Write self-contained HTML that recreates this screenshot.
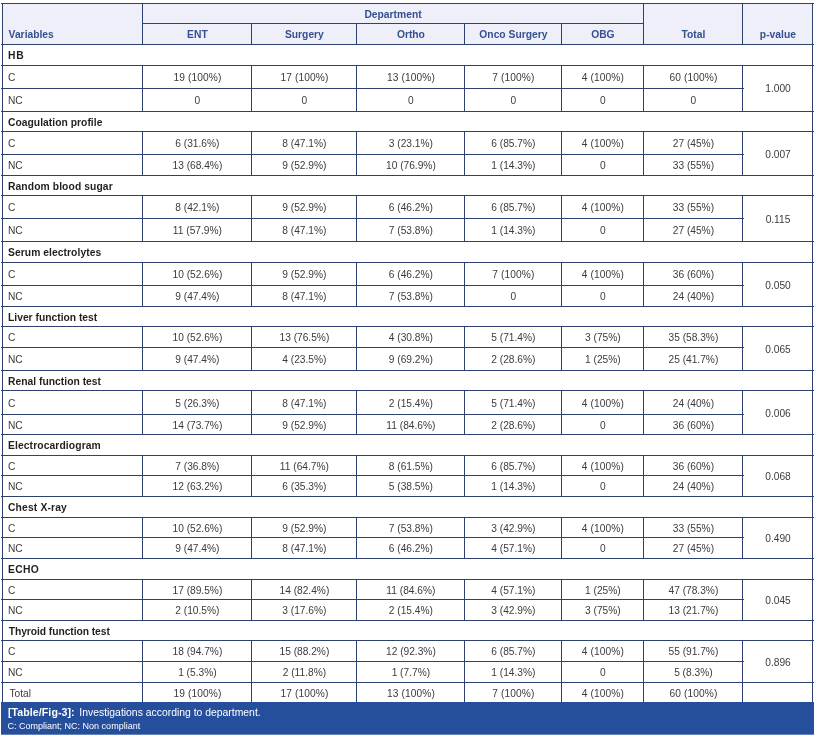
<!DOCTYPE html>
<html lang="en">
<head>
<meta charset="utf-8">
<title>Table/Fig-3: Investigations according to department</title>
<style>
html,body{margin:0;padding:0;background:#fff;}
body{width:817px;height:737px;position:relative;overflow:hidden;font-family:"Liberation Sans",sans-serif;}
svg{position:absolute;left:0;top:0;}
.t{position:absolute;white-space:nowrap;}
</style>
</head>
<body>
<svg width="817" height="737" viewBox="0 0 817 737" shape-rendering="crispEdges">
<rect x="3" y="4" width="809" height="40" fill="#eeeff8"/>
<rect x="1" y="702" width="813" height="32.7" fill="#254f9d" shape-rendering="auto"/>
<g fill="#2d4271">
<rect x="2" y="3" width="1" height="699"/>
<rect x="812" y="3" width="1" height="699"/>
<rect x="1" y="3" width="813" height="1"/>
<rect x="142" y="23" width="502" height="1"/>
<rect x="1" y="44" width="813" height="1"/>
<rect x="142" y="3" width="1" height="41"/>
<rect x="643" y="3" width="1" height="41"/>
<rect x="742" y="3" width="1" height="41"/>
<rect x="251" y="23" width="1" height="21"/>
<rect x="356" y="23" width="1" height="21"/>
<rect x="464" y="23" width="1" height="21"/>
<rect x="561" y="23" width="1" height="21"/>
<rect x="1" y="65" width="813" height="1"/>
<rect x="1" y="88" width="743" height="1"/>
<rect x="1" y="111" width="813" height="1"/>
<rect x="142" y="65" width="1" height="46"/>
<rect x="251" y="65" width="1" height="46"/>
<rect x="356" y="65" width="1" height="46"/>
<rect x="464" y="65" width="1" height="46"/>
<rect x="561" y="65" width="1" height="46"/>
<rect x="643" y="65" width="1" height="46"/>
<rect x="742" y="65" width="1" height="46"/>
<rect x="1" y="131" width="813" height="1"/>
<rect x="1" y="154" width="743" height="1"/>
<rect x="1" y="175" width="813" height="1"/>
<rect x="142" y="131" width="1" height="44"/>
<rect x="251" y="131" width="1" height="44"/>
<rect x="356" y="131" width="1" height="44"/>
<rect x="464" y="131" width="1" height="44"/>
<rect x="561" y="131" width="1" height="44"/>
<rect x="643" y="131" width="1" height="44"/>
<rect x="742" y="131" width="1" height="44"/>
<rect x="1" y="195" width="813" height="1"/>
<rect x="1" y="218" width="743" height="1"/>
<rect x="1" y="241" width="813" height="1"/>
<rect x="142" y="195" width="1" height="46"/>
<rect x="251" y="195" width="1" height="46"/>
<rect x="356" y="195" width="1" height="46"/>
<rect x="464" y="195" width="1" height="46"/>
<rect x="561" y="195" width="1" height="46"/>
<rect x="643" y="195" width="1" height="46"/>
<rect x="742" y="195" width="1" height="46"/>
<rect x="1" y="262" width="813" height="1"/>
<rect x="1" y="285" width="743" height="1"/>
<rect x="1" y="306" width="813" height="1"/>
<rect x="142" y="262" width="1" height="44"/>
<rect x="251" y="262" width="1" height="44"/>
<rect x="356" y="262" width="1" height="44"/>
<rect x="464" y="262" width="1" height="44"/>
<rect x="561" y="262" width="1" height="44"/>
<rect x="643" y="262" width="1" height="44"/>
<rect x="742" y="262" width="1" height="44"/>
<rect x="1" y="326" width="813" height="1"/>
<rect x="1" y="347" width="743" height="1"/>
<rect x="1" y="370" width="813" height="1"/>
<rect x="142" y="326" width="1" height="44"/>
<rect x="251" y="326" width="1" height="44"/>
<rect x="356" y="326" width="1" height="44"/>
<rect x="464" y="326" width="1" height="44"/>
<rect x="561" y="326" width="1" height="44"/>
<rect x="643" y="326" width="1" height="44"/>
<rect x="742" y="326" width="1" height="44"/>
<rect x="1" y="390" width="813" height="1"/>
<rect x="1" y="414" width="743" height="1"/>
<rect x="1" y="434" width="813" height="1"/>
<rect x="142" y="390" width="1" height="44"/>
<rect x="251" y="390" width="1" height="44"/>
<rect x="356" y="390" width="1" height="44"/>
<rect x="464" y="390" width="1" height="44"/>
<rect x="561" y="390" width="1" height="44"/>
<rect x="643" y="390" width="1" height="44"/>
<rect x="742" y="390" width="1" height="44"/>
<rect x="1" y="455" width="813" height="1"/>
<rect x="1" y="475" width="743" height="1"/>
<rect x="1" y="496" width="813" height="1"/>
<rect x="142" y="455" width="1" height="41"/>
<rect x="251" y="455" width="1" height="41"/>
<rect x="356" y="455" width="1" height="41"/>
<rect x="464" y="455" width="1" height="41"/>
<rect x="561" y="455" width="1" height="41"/>
<rect x="643" y="455" width="1" height="41"/>
<rect x="742" y="455" width="1" height="41"/>
<rect x="1" y="517" width="813" height="1"/>
<rect x="1" y="537" width="743" height="1"/>
<rect x="1" y="558" width="813" height="1"/>
<rect x="142" y="517" width="1" height="41"/>
<rect x="251" y="517" width="1" height="41"/>
<rect x="356" y="517" width="1" height="41"/>
<rect x="464" y="517" width="1" height="41"/>
<rect x="561" y="517" width="1" height="41"/>
<rect x="643" y="517" width="1" height="41"/>
<rect x="742" y="517" width="1" height="41"/>
<rect x="1" y="579" width="813" height="1"/>
<rect x="1" y="599" width="743" height="1"/>
<rect x="1" y="620" width="813" height="1"/>
<rect x="142" y="579" width="1" height="41"/>
<rect x="251" y="579" width="1" height="41"/>
<rect x="356" y="579" width="1" height="41"/>
<rect x="464" y="579" width="1" height="41"/>
<rect x="561" y="579" width="1" height="41"/>
<rect x="643" y="579" width="1" height="41"/>
<rect x="742" y="579" width="1" height="41"/>
<rect x="1" y="640" width="813" height="1"/>
<rect x="1" y="661" width="743" height="1"/>
<rect x="1" y="682" width="813" height="1"/>
<rect x="142" y="640" width="1" height="42"/>
<rect x="251" y="640" width="1" height="42"/>
<rect x="356" y="640" width="1" height="42"/>
<rect x="464" y="640" width="1" height="42"/>
<rect x="561" y="640" width="1" height="42"/>
<rect x="643" y="640" width="1" height="42"/>
<rect x="742" y="640" width="1" height="42"/>
<rect x="142" y="682" width="1" height="20"/>
<rect x="251" y="682" width="1" height="20"/>
<rect x="356" y="682" width="1" height="20"/>
<rect x="464" y="682" width="1" height="20"/>
<rect x="561" y="682" width="1" height="20"/>
<rect x="643" y="682" width="1" height="20"/>
<rect x="742" y="682" width="1" height="20"/>
</g>
</svg>
<div class="t" style="top:9px;font-size:10.3px;line-height:11px;color:#35508f;font-weight:bold;left:293.00px;width:200px;text-align:center;">Department</div>
<div class="t" style="top:29px;font-size:10.3px;line-height:11px;color:#35508f;font-weight:bold;left:8.60px;">Variables</div>
<div class="t" style="top:29px;font-size:10.3px;line-height:11px;color:#35508f;font-weight:bold;left:97.40px;width:200px;text-align:center;">ENT</div>
<div class="t" style="top:29px;font-size:10.3px;line-height:11px;color:#35508f;font-weight:bold;left:204.40px;width:200px;text-align:center;">Surgery</div>
<div class="t" style="top:29px;font-size:10.3px;line-height:11px;color:#35508f;font-weight:bold;left:310.90px;width:200px;text-align:center;">Ortho</div>
<div class="t" style="top:29px;font-size:10.3px;line-height:11px;color:#35508f;font-weight:bold;left:413.40px;width:200px;text-align:center;">Onco Surgery</div>
<div class="t" style="top:29px;font-size:10.3px;line-height:11px;color:#35508f;font-weight:bold;left:502.90px;width:200px;text-align:center;">OBG</div>
<div class="t" style="top:29px;font-size:10.3px;line-height:11px;color:#35508f;font-weight:bold;left:593.40px;width:200px;text-align:center;">Total</div>
<div class="t" style="top:29px;font-size:10.3px;line-height:11px;color:#35508f;font-weight:bold;left:677.90px;width:200px;text-align:center;">p-value</div>
<div class="t" style="top:50px;font-size:10.3px;line-height:11px;color:#231f20;font-weight:bold;letter-spacing:0.7px;left:8.00px;">HB</div>
<div class="t" style="top:72px;font-size:10.2px;line-height:11px;color:#3b3b3d;left:8.00px;">C</div>
<div class="t" style="top:95px;font-size:10.2px;line-height:11px;color:#3b3b3d;left:8.00px;">NC</div>
<div class="t" style="top:72px;font-size:10.2px;line-height:11px;color:#3b3b3d;letter-spacing:0.1px;left:97.45px;width:200px;text-align:center;">19 (100%)</div>
<div class="t" style="top:95px;font-size:10.2px;line-height:11px;color:#3b3b3d;left:97.40px;width:200px;text-align:center;">0</div>
<div class="t" style="top:72px;font-size:10.2px;line-height:11px;color:#3b3b3d;letter-spacing:0.1px;left:204.45px;width:200px;text-align:center;">17 (100%)</div>
<div class="t" style="top:95px;font-size:10.2px;line-height:11px;color:#3b3b3d;left:204.40px;width:200px;text-align:center;">0</div>
<div class="t" style="top:72px;font-size:10.2px;line-height:11px;color:#3b3b3d;letter-spacing:0.1px;left:310.95px;width:200px;text-align:center;">13 (100%)</div>
<div class="t" style="top:95px;font-size:10.2px;line-height:11px;color:#3b3b3d;left:310.90px;width:200px;text-align:center;">0</div>
<div class="t" style="top:72px;font-size:10.2px;line-height:11px;color:#3b3b3d;letter-spacing:0.1px;left:413.45px;width:200px;text-align:center;">7 (100%)</div>
<div class="t" style="top:95px;font-size:10.2px;line-height:11px;color:#3b3b3d;left:413.40px;width:200px;text-align:center;">0</div>
<div class="t" style="top:72px;font-size:10.2px;line-height:11px;color:#3b3b3d;letter-spacing:0.1px;left:502.95px;width:200px;text-align:center;">4 (100%)</div>
<div class="t" style="top:95px;font-size:10.2px;line-height:11px;color:#3b3b3d;left:502.90px;width:200px;text-align:center;">0</div>
<div class="t" style="top:72px;font-size:10.2px;line-height:11px;color:#3b3b3d;letter-spacing:0.1px;left:593.45px;width:200px;text-align:center;">60 (100%)</div>
<div class="t" style="top:95px;font-size:10.2px;line-height:11px;color:#3b3b3d;left:593.40px;width:200px;text-align:center;">0</div>
<div class="t" style="top:83px;font-size:10.2px;line-height:11px;color:#3b3b3d;left:678.00px;width:200px;text-align:center;">1.000</div>
<div class="t" style="top:117px;font-size:10.3px;line-height:11px;color:#231f20;font-weight:bold;letter-spacing:0.03px;left:8.00px;">Coagulation profile</div>
<div class="t" style="top:138px;font-size:10.2px;line-height:11px;color:#3b3b3d;left:8.00px;">C</div>
<div class="t" style="top:160px;font-size:10.2px;line-height:11px;color:#3b3b3d;left:8.00px;">NC</div>
<div class="t" style="top:138px;font-size:10.2px;line-height:11px;color:#3b3b3d;left:97.40px;width:200px;text-align:center;">6 (31.6%)</div>
<div class="t" style="top:160px;font-size:10.2px;line-height:11px;color:#3b3b3d;left:97.40px;width:200px;text-align:center;">13 (68.4%)</div>
<div class="t" style="top:138px;font-size:10.2px;line-height:11px;color:#3b3b3d;left:204.40px;width:200px;text-align:center;">8 (47.1%)</div>
<div class="t" style="top:160px;font-size:10.2px;line-height:11px;color:#3b3b3d;left:204.40px;width:200px;text-align:center;">9 (52.9%)</div>
<div class="t" style="top:138px;font-size:10.2px;line-height:11px;color:#3b3b3d;left:310.90px;width:200px;text-align:center;">3 (23.1%)</div>
<div class="t" style="top:160px;font-size:10.2px;line-height:11px;color:#3b3b3d;left:310.90px;width:200px;text-align:center;">10 (76.9%)</div>
<div class="t" style="top:138px;font-size:10.2px;line-height:11px;color:#3b3b3d;left:413.40px;width:200px;text-align:center;">6 (85.7%)</div>
<div class="t" style="top:160px;font-size:10.2px;line-height:11px;color:#3b3b3d;left:413.40px;width:200px;text-align:center;">1 (14.3%)</div>
<div class="t" style="top:138px;font-size:10.2px;line-height:11px;color:#3b3b3d;letter-spacing:0.1px;left:502.95px;width:200px;text-align:center;">4 (100%)</div>
<div class="t" style="top:160px;font-size:10.2px;line-height:11px;color:#3b3b3d;left:502.90px;width:200px;text-align:center;">0</div>
<div class="t" style="top:138px;font-size:10.2px;line-height:11px;color:#3b3b3d;left:593.40px;width:200px;text-align:center;">27 (45%)</div>
<div class="t" style="top:160px;font-size:10.2px;line-height:11px;color:#3b3b3d;left:593.40px;width:200px;text-align:center;">33 (55%)</div>
<div class="t" style="top:149px;font-size:10.2px;line-height:11px;color:#3b3b3d;left:678.00px;width:200px;text-align:center;">0.007</div>
<div class="t" style="top:181px;font-size:10.3px;line-height:11px;color:#231f20;font-weight:bold;letter-spacing:0.1px;left:8.00px;">Random blood sugar</div>
<div class="t" style="top:202px;font-size:10.2px;line-height:11px;color:#3b3b3d;left:8.00px;">C</div>
<div class="t" style="top:225px;font-size:10.2px;line-height:11px;color:#3b3b3d;left:8.00px;">NC</div>
<div class="t" style="top:202px;font-size:10.2px;line-height:11px;color:#3b3b3d;left:97.40px;width:200px;text-align:center;">8 (42.1%)</div>
<div class="t" style="top:225px;font-size:10.2px;line-height:11px;color:#3b3b3d;left:97.40px;width:200px;text-align:center;">11 (57.9%)</div>
<div class="t" style="top:202px;font-size:10.2px;line-height:11px;color:#3b3b3d;left:204.40px;width:200px;text-align:center;">9 (52.9%)</div>
<div class="t" style="top:225px;font-size:10.2px;line-height:11px;color:#3b3b3d;left:204.40px;width:200px;text-align:center;">8 (47.1%)</div>
<div class="t" style="top:202px;font-size:10.2px;line-height:11px;color:#3b3b3d;left:310.90px;width:200px;text-align:center;">6 (46.2%)</div>
<div class="t" style="top:225px;font-size:10.2px;line-height:11px;color:#3b3b3d;left:310.90px;width:200px;text-align:center;">7 (53.8%)</div>
<div class="t" style="top:202px;font-size:10.2px;line-height:11px;color:#3b3b3d;left:413.40px;width:200px;text-align:center;">6 (85.7%)</div>
<div class="t" style="top:225px;font-size:10.2px;line-height:11px;color:#3b3b3d;left:413.40px;width:200px;text-align:center;">1 (14.3%)</div>
<div class="t" style="top:202px;font-size:10.2px;line-height:11px;color:#3b3b3d;letter-spacing:0.1px;left:502.95px;width:200px;text-align:center;">4 (100%)</div>
<div class="t" style="top:225px;font-size:10.2px;line-height:11px;color:#3b3b3d;left:502.90px;width:200px;text-align:center;">0</div>
<div class="t" style="top:202px;font-size:10.2px;line-height:11px;color:#3b3b3d;left:593.40px;width:200px;text-align:center;">33 (55%)</div>
<div class="t" style="top:225px;font-size:10.2px;line-height:11px;color:#3b3b3d;left:593.40px;width:200px;text-align:center;">27 (45%)</div>
<div class="t" style="top:214px;font-size:10.2px;line-height:11px;color:#3b3b3d;left:678.00px;width:200px;text-align:center;">0.115</div>
<div class="t" style="top:247px;font-size:10.3px;line-height:11px;color:#231f20;font-weight:bold;letter-spacing:0.06px;left:8.00px;">Serum electrolytes</div>
<div class="t" style="top:269px;font-size:10.2px;line-height:11px;color:#3b3b3d;left:8.00px;">C</div>
<div class="t" style="top:291px;font-size:10.2px;line-height:11px;color:#3b3b3d;left:8.00px;">NC</div>
<div class="t" style="top:269px;font-size:10.2px;line-height:11px;color:#3b3b3d;left:97.40px;width:200px;text-align:center;">10 (52.6%)</div>
<div class="t" style="top:291px;font-size:10.2px;line-height:11px;color:#3b3b3d;left:97.40px;width:200px;text-align:center;">9 (47.4%)</div>
<div class="t" style="top:269px;font-size:10.2px;line-height:11px;color:#3b3b3d;left:204.40px;width:200px;text-align:center;">9 (52.9%)</div>
<div class="t" style="top:291px;font-size:10.2px;line-height:11px;color:#3b3b3d;left:204.40px;width:200px;text-align:center;">8 (47.1%)</div>
<div class="t" style="top:269px;font-size:10.2px;line-height:11px;color:#3b3b3d;left:310.90px;width:200px;text-align:center;">6 (46.2%)</div>
<div class="t" style="top:291px;font-size:10.2px;line-height:11px;color:#3b3b3d;left:310.90px;width:200px;text-align:center;">7 (53.8%)</div>
<div class="t" style="top:269px;font-size:10.2px;line-height:11px;color:#3b3b3d;letter-spacing:0.1px;left:413.45px;width:200px;text-align:center;">7 (100%)</div>
<div class="t" style="top:291px;font-size:10.2px;line-height:11px;color:#3b3b3d;left:413.40px;width:200px;text-align:center;">0</div>
<div class="t" style="top:269px;font-size:10.2px;line-height:11px;color:#3b3b3d;letter-spacing:0.1px;left:502.95px;width:200px;text-align:center;">4 (100%)</div>
<div class="t" style="top:291px;font-size:10.2px;line-height:11px;color:#3b3b3d;left:502.90px;width:200px;text-align:center;">0</div>
<div class="t" style="top:269px;font-size:10.2px;line-height:11px;color:#3b3b3d;left:593.40px;width:200px;text-align:center;">36 (60%)</div>
<div class="t" style="top:291px;font-size:10.2px;line-height:11px;color:#3b3b3d;left:593.40px;width:200px;text-align:center;">24 (40%)</div>
<div class="t" style="top:280px;font-size:10.2px;line-height:11px;color:#3b3b3d;left:678.00px;width:200px;text-align:center;">0.050</div>
<div class="t" style="top:312px;font-size:10.3px;line-height:11px;color:#231f20;font-weight:bold;left:8.00px;">Liver function test</div>
<div class="t" style="top:332px;font-size:10.2px;line-height:11px;color:#3b3b3d;left:8.00px;">C</div>
<div class="t" style="top:354px;font-size:10.2px;line-height:11px;color:#3b3b3d;left:8.00px;">NC</div>
<div class="t" style="top:332px;font-size:10.2px;line-height:11px;color:#3b3b3d;left:97.40px;width:200px;text-align:center;">10 (52.6%)</div>
<div class="t" style="top:354px;font-size:10.2px;line-height:11px;color:#3b3b3d;left:97.40px;width:200px;text-align:center;">9 (47.4%)</div>
<div class="t" style="top:332px;font-size:10.2px;line-height:11px;color:#3b3b3d;left:204.40px;width:200px;text-align:center;">13 (76.5%)</div>
<div class="t" style="top:354px;font-size:10.2px;line-height:11px;color:#3b3b3d;left:204.40px;width:200px;text-align:center;">4 (23.5%)</div>
<div class="t" style="top:332px;font-size:10.2px;line-height:11px;color:#3b3b3d;left:310.90px;width:200px;text-align:center;">4 (30.8%)</div>
<div class="t" style="top:354px;font-size:10.2px;line-height:11px;color:#3b3b3d;left:310.90px;width:200px;text-align:center;">9 (69.2%)</div>
<div class="t" style="top:332px;font-size:10.2px;line-height:11px;color:#3b3b3d;left:413.40px;width:200px;text-align:center;">5 (71.4%)</div>
<div class="t" style="top:354px;font-size:10.2px;line-height:11px;color:#3b3b3d;left:413.40px;width:200px;text-align:center;">2 (28.6%)</div>
<div class="t" style="top:332px;font-size:10.2px;line-height:11px;color:#3b3b3d;left:502.90px;width:200px;text-align:center;">3 (75%)</div>
<div class="t" style="top:354px;font-size:10.2px;line-height:11px;color:#3b3b3d;left:502.90px;width:200px;text-align:center;">1 (25%)</div>
<div class="t" style="top:332px;font-size:10.2px;line-height:11px;color:#3b3b3d;left:593.40px;width:200px;text-align:center;">35 (58.3%)</div>
<div class="t" style="top:354px;font-size:10.2px;line-height:11px;color:#3b3b3d;left:593.40px;width:200px;text-align:center;">25 (41.7%)</div>
<div class="t" style="top:344px;font-size:10.2px;line-height:11px;color:#3b3b3d;left:678.00px;width:200px;text-align:center;">0.065</div>
<div class="t" style="top:376px;font-size:10.3px;line-height:11px;color:#231f20;font-weight:bold;letter-spacing:0.02px;left:8.00px;">Renal function test</div>
<div class="t" style="top:398px;font-size:10.2px;line-height:11px;color:#3b3b3d;left:8.00px;">C</div>
<div class="t" style="top:420px;font-size:10.2px;line-height:11px;color:#3b3b3d;left:8.00px;">NC</div>
<div class="t" style="top:398px;font-size:10.2px;line-height:11px;color:#3b3b3d;left:97.40px;width:200px;text-align:center;">5 (26.3%)</div>
<div class="t" style="top:420px;font-size:10.2px;line-height:11px;color:#3b3b3d;left:97.40px;width:200px;text-align:center;">14 (73.7%)</div>
<div class="t" style="top:398px;font-size:10.2px;line-height:11px;color:#3b3b3d;left:204.40px;width:200px;text-align:center;">8 (47.1%)</div>
<div class="t" style="top:420px;font-size:10.2px;line-height:11px;color:#3b3b3d;left:204.40px;width:200px;text-align:center;">9 (52.9%)</div>
<div class="t" style="top:398px;font-size:10.2px;line-height:11px;color:#3b3b3d;left:310.90px;width:200px;text-align:center;">2 (15.4%)</div>
<div class="t" style="top:420px;font-size:10.2px;line-height:11px;color:#3b3b3d;left:310.90px;width:200px;text-align:center;">11 (84.6%)</div>
<div class="t" style="top:398px;font-size:10.2px;line-height:11px;color:#3b3b3d;left:413.40px;width:200px;text-align:center;">5 (71.4%)</div>
<div class="t" style="top:420px;font-size:10.2px;line-height:11px;color:#3b3b3d;left:413.40px;width:200px;text-align:center;">2 (28.6%)</div>
<div class="t" style="top:398px;font-size:10.2px;line-height:11px;color:#3b3b3d;letter-spacing:0.1px;left:502.95px;width:200px;text-align:center;">4 (100%)</div>
<div class="t" style="top:420px;font-size:10.2px;line-height:11px;color:#3b3b3d;left:502.90px;width:200px;text-align:center;">0</div>
<div class="t" style="top:398px;font-size:10.2px;line-height:11px;color:#3b3b3d;left:593.40px;width:200px;text-align:center;">24 (40%)</div>
<div class="t" style="top:420px;font-size:10.2px;line-height:11px;color:#3b3b3d;left:593.40px;width:200px;text-align:center;">36 (60%)</div>
<div class="t" style="top:408px;font-size:10.2px;line-height:11px;color:#3b3b3d;left:678.00px;width:200px;text-align:center;">0.006</div>
<div class="t" style="top:440px;font-size:10.3px;line-height:11px;color:#231f20;font-weight:bold;letter-spacing:0.11px;left:8.00px;">Electrocardiogram</div>
<div class="t" style="top:461px;font-size:10.2px;line-height:11px;color:#3b3b3d;left:8.00px;">C</div>
<div class="t" style="top:481px;font-size:10.2px;line-height:11px;color:#3b3b3d;left:8.00px;">NC</div>
<div class="t" style="top:461px;font-size:10.2px;line-height:11px;color:#3b3b3d;left:97.40px;width:200px;text-align:center;">7 (36.8%)</div>
<div class="t" style="top:481px;font-size:10.2px;line-height:11px;color:#3b3b3d;left:97.40px;width:200px;text-align:center;">12 (63.2%)</div>
<div class="t" style="top:461px;font-size:10.2px;line-height:11px;color:#3b3b3d;left:204.40px;width:200px;text-align:center;">11 (64.7%)</div>
<div class="t" style="top:481px;font-size:10.2px;line-height:11px;color:#3b3b3d;left:204.40px;width:200px;text-align:center;">6 (35.3%)</div>
<div class="t" style="top:461px;font-size:10.2px;line-height:11px;color:#3b3b3d;left:310.90px;width:200px;text-align:center;">8 (61.5%)</div>
<div class="t" style="top:481px;font-size:10.2px;line-height:11px;color:#3b3b3d;left:310.90px;width:200px;text-align:center;">5 (38.5%)</div>
<div class="t" style="top:461px;font-size:10.2px;line-height:11px;color:#3b3b3d;left:413.40px;width:200px;text-align:center;">6 (85.7%)</div>
<div class="t" style="top:481px;font-size:10.2px;line-height:11px;color:#3b3b3d;left:413.40px;width:200px;text-align:center;">1 (14.3%)</div>
<div class="t" style="top:461px;font-size:10.2px;line-height:11px;color:#3b3b3d;letter-spacing:0.1px;left:502.95px;width:200px;text-align:center;">4 (100%)</div>
<div class="t" style="top:481px;font-size:10.2px;line-height:11px;color:#3b3b3d;left:502.90px;width:200px;text-align:center;">0</div>
<div class="t" style="top:461px;font-size:10.2px;line-height:11px;color:#3b3b3d;left:593.40px;width:200px;text-align:center;">36 (60%)</div>
<div class="t" style="top:481px;font-size:10.2px;line-height:11px;color:#3b3b3d;left:593.40px;width:200px;text-align:center;">24 (40%)</div>
<div class="t" style="top:471px;font-size:10.2px;line-height:11px;color:#3b3b3d;left:678.00px;width:200px;text-align:center;">0.068</div>
<div class="t" style="top:502px;font-size:10.3px;line-height:11px;color:#231f20;font-weight:bold;letter-spacing:0.16px;left:8.00px;">Chest X-ray</div>
<div class="t" style="top:523px;font-size:10.2px;line-height:11px;color:#3b3b3d;left:8.00px;">C</div>
<div class="t" style="top:543px;font-size:10.2px;line-height:11px;color:#3b3b3d;left:8.00px;">NC</div>
<div class="t" style="top:523px;font-size:10.2px;line-height:11px;color:#3b3b3d;left:97.40px;width:200px;text-align:center;">10 (52.6%)</div>
<div class="t" style="top:543px;font-size:10.2px;line-height:11px;color:#3b3b3d;left:97.40px;width:200px;text-align:center;">9 (47.4%)</div>
<div class="t" style="top:523px;font-size:10.2px;line-height:11px;color:#3b3b3d;left:204.40px;width:200px;text-align:center;">9 (52.9%)</div>
<div class="t" style="top:543px;font-size:10.2px;line-height:11px;color:#3b3b3d;left:204.40px;width:200px;text-align:center;">8 (47.1%)</div>
<div class="t" style="top:523px;font-size:10.2px;line-height:11px;color:#3b3b3d;left:310.90px;width:200px;text-align:center;">7 (53.8%)</div>
<div class="t" style="top:543px;font-size:10.2px;line-height:11px;color:#3b3b3d;left:310.90px;width:200px;text-align:center;">6 (46.2%)</div>
<div class="t" style="top:523px;font-size:10.2px;line-height:11px;color:#3b3b3d;left:413.40px;width:200px;text-align:center;">3 (42.9%)</div>
<div class="t" style="top:543px;font-size:10.2px;line-height:11px;color:#3b3b3d;left:413.40px;width:200px;text-align:center;">4 (57.1%)</div>
<div class="t" style="top:523px;font-size:10.2px;line-height:11px;color:#3b3b3d;letter-spacing:0.1px;left:502.95px;width:200px;text-align:center;">4 (100%)</div>
<div class="t" style="top:543px;font-size:10.2px;line-height:11px;color:#3b3b3d;left:502.90px;width:200px;text-align:center;">0</div>
<div class="t" style="top:523px;font-size:10.2px;line-height:11px;color:#3b3b3d;left:593.40px;width:200px;text-align:center;">33 (55%)</div>
<div class="t" style="top:543px;font-size:10.2px;line-height:11px;color:#3b3b3d;left:593.40px;width:200px;text-align:center;">27 (45%)</div>
<div class="t" style="top:533px;font-size:10.2px;line-height:11px;color:#3b3b3d;left:678.00px;width:200px;text-align:center;">0.490</div>
<div class="t" style="top:564px;font-size:10.3px;line-height:11px;color:#231f20;font-weight:bold;letter-spacing:0.37px;left:8.00px;">ECHO</div>
<div class="t" style="top:585px;font-size:10.2px;line-height:11px;color:#3b3b3d;left:8.00px;">C</div>
<div class="t" style="top:605px;font-size:10.2px;line-height:11px;color:#3b3b3d;left:8.00px;">NC</div>
<div class="t" style="top:585px;font-size:10.2px;line-height:11px;color:#3b3b3d;left:97.40px;width:200px;text-align:center;">17 (89.5%)</div>
<div class="t" style="top:605px;font-size:10.2px;line-height:11px;color:#3b3b3d;left:97.40px;width:200px;text-align:center;">2 (10.5%)</div>
<div class="t" style="top:585px;font-size:10.2px;line-height:11px;color:#3b3b3d;left:204.40px;width:200px;text-align:center;">14 (82.4%)</div>
<div class="t" style="top:605px;font-size:10.2px;line-height:11px;color:#3b3b3d;left:204.40px;width:200px;text-align:center;">3 (17.6%)</div>
<div class="t" style="top:585px;font-size:10.2px;line-height:11px;color:#3b3b3d;left:310.90px;width:200px;text-align:center;">11 (84.6%)</div>
<div class="t" style="top:605px;font-size:10.2px;line-height:11px;color:#3b3b3d;left:310.90px;width:200px;text-align:center;">2 (15.4%)</div>
<div class="t" style="top:585px;font-size:10.2px;line-height:11px;color:#3b3b3d;left:413.40px;width:200px;text-align:center;">4 (57.1%)</div>
<div class="t" style="top:605px;font-size:10.2px;line-height:11px;color:#3b3b3d;left:413.40px;width:200px;text-align:center;">3 (42.9%)</div>
<div class="t" style="top:585px;font-size:10.2px;line-height:11px;color:#3b3b3d;left:502.90px;width:200px;text-align:center;">1 (25%)</div>
<div class="t" style="top:605px;font-size:10.2px;line-height:11px;color:#3b3b3d;left:502.90px;width:200px;text-align:center;">3 (75%)</div>
<div class="t" style="top:585px;font-size:10.2px;line-height:11px;color:#3b3b3d;left:593.40px;width:200px;text-align:center;">47 (78.3%)</div>
<div class="t" style="top:605px;font-size:10.2px;line-height:11px;color:#3b3b3d;left:593.40px;width:200px;text-align:center;">13 (21.7%)</div>
<div class="t" style="top:595px;font-size:10.2px;line-height:11px;color:#3b3b3d;left:678.00px;width:200px;text-align:center;">0.045</div>
<div class="t" style="top:626px;font-size:10.3px;line-height:11px;color:#231f20;font-weight:bold;letter-spacing:-0.06px;left:8.70px;">Thyroid function test</div>
<div class="t" style="top:646px;font-size:10.2px;line-height:11px;color:#3b3b3d;left:8.00px;">C</div>
<div class="t" style="top:667px;font-size:10.2px;line-height:11px;color:#3b3b3d;left:8.00px;">NC</div>
<div class="t" style="top:646px;font-size:10.2px;line-height:11px;color:#3b3b3d;left:97.40px;width:200px;text-align:center;">18 (94.7%)</div>
<div class="t" style="top:667px;font-size:10.2px;line-height:11px;color:#3b3b3d;left:97.40px;width:200px;text-align:center;">1 (5.3%)</div>
<div class="t" style="top:646px;font-size:10.2px;line-height:11px;color:#3b3b3d;left:204.40px;width:200px;text-align:center;">15 (88.2%)</div>
<div class="t" style="top:667px;font-size:10.2px;line-height:11px;color:#3b3b3d;left:204.40px;width:200px;text-align:center;">2 (11.8%)</div>
<div class="t" style="top:646px;font-size:10.2px;line-height:11px;color:#3b3b3d;left:310.90px;width:200px;text-align:center;">12 (92.3%)</div>
<div class="t" style="top:667px;font-size:10.2px;line-height:11px;color:#3b3b3d;left:310.90px;width:200px;text-align:center;">1 (7.7%)</div>
<div class="t" style="top:646px;font-size:10.2px;line-height:11px;color:#3b3b3d;left:413.40px;width:200px;text-align:center;">6 (85.7%)</div>
<div class="t" style="top:667px;font-size:10.2px;line-height:11px;color:#3b3b3d;left:413.40px;width:200px;text-align:center;">1 (14.3%)</div>
<div class="t" style="top:646px;font-size:10.2px;line-height:11px;color:#3b3b3d;letter-spacing:0.1px;left:502.95px;width:200px;text-align:center;">4 (100%)</div>
<div class="t" style="top:667px;font-size:10.2px;line-height:11px;color:#3b3b3d;left:502.90px;width:200px;text-align:center;">0</div>
<div class="t" style="top:646px;font-size:10.2px;line-height:11px;color:#3b3b3d;left:593.40px;width:200px;text-align:center;">55 (91.7%)</div>
<div class="t" style="top:667px;font-size:10.2px;line-height:11px;color:#3b3b3d;left:593.40px;width:200px;text-align:center;">5 (8.3%)</div>
<div class="t" style="top:657px;font-size:10.2px;line-height:11px;color:#3b3b3d;left:678.00px;width:200px;text-align:center;">0.896</div>
<div class="t" style="top:688px;font-size:10.2px;line-height:11px;color:#3b3b3d;left:9.40px;">Total</div>
<div class="t" style="top:688px;font-size:10.2px;line-height:11px;color:#3b3b3d;letter-spacing:0.1px;left:97.45px;width:200px;text-align:center;">19 (100%)</div>
<div class="t" style="top:688px;font-size:10.2px;line-height:11px;color:#3b3b3d;letter-spacing:0.1px;left:204.45px;width:200px;text-align:center;">17 (100%)</div>
<div class="t" style="top:688px;font-size:10.2px;line-height:11px;color:#3b3b3d;letter-spacing:0.1px;left:310.95px;width:200px;text-align:center;">13 (100%)</div>
<div class="t" style="top:688px;font-size:10.2px;line-height:11px;color:#3b3b3d;letter-spacing:0.1px;left:413.45px;width:200px;text-align:center;">7 (100%)</div>
<div class="t" style="top:688px;font-size:10.2px;line-height:11px;color:#3b3b3d;letter-spacing:0.1px;left:502.95px;width:200px;text-align:center;">4 (100%)</div>
<div class="t" style="top:688px;font-size:10.2px;line-height:11px;color:#3b3b3d;letter-spacing:0.1px;left:593.45px;width:200px;text-align:center;">60 (100%)</div>
<div class="t" style="top:706px;font-size:10.6px;line-height:12px;color:#fff;font-weight:bold;letter-spacing:0.08px;left:7.9px;">[Table/Fig-3]:</div>
<div class="t" style="top:707px;font-size:10.4px;line-height:11px;color:#fff;left:79.3px;">Investigations according to department.</div>
<div class="t" style="top:721px;font-size:9.0px;line-height:10px;color:#fff;left:7.6px;">C: Compliant; NC: Non compliant</div>
</body>
</html>
